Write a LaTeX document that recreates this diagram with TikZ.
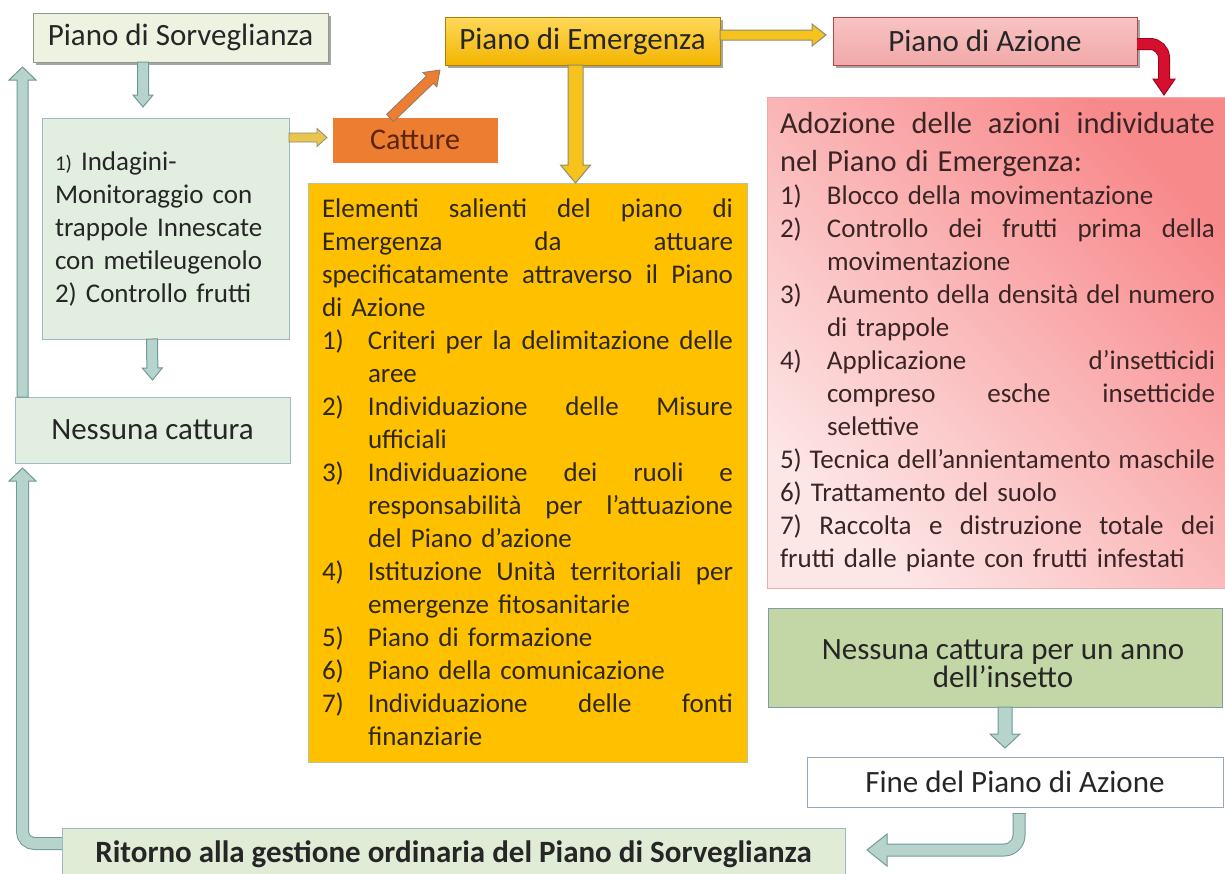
\documentclass[tikz,border=0pt]{standalone}
\usepackage{fontspec}
\setmainfont{Carlito}
\usetikzlibrary{calc,shadows}
\definecolor{txt}{HTML}{262626}
\definecolor{pdsfill}{HTML}{EEF3E1}
\definecolor{pdsdraw}{HTML}{8C9B88}
\definecolor{bfill}{HTML}{E2EEDF}
\definecolor{bdraw}{HTML}{9FBAC4}
\definecolor{ritfill}{HTML}{E1ECD7}
\definecolor{annofill}{HTML}{C3D6A5}
\definecolor{annodraw}{HTML}{7E9DA8}
\definecolor{finedraw}{HTML}{8FA8C8}
\definecolor{tealfill}{HTML}{B6D3CC}
\definecolor{tealdraw}{HTML}{71999A}
\definecolor{goldfill}{HTML}{F5C31C}
\definecolor{golddraw}{HTML}{8E8B74}
\definecolor{lgoldfill}{HTML}{E9C54E}
\definecolor{catfill}{HTML}{ED7D31}
\definecolor{catdraw}{HTML}{8E7A6A}
\definecolor{cattxt}{HTML}{5A2508}
\definecolor{emtop}{HTML}{FFD85A}
\definecolor{embot}{HTML}{F3B500}
\definecolor{emdraw}{HTML}{A88200}
\definecolor{orfill}{HTML}{FFC000}
\definecolor{ordraw}{HTML}{B9C2A3}
\definecolor{ortxt}{HTML}{2E2812}
\definecolor{aztop}{HTML}{F8C3C3}
\definecolor{azmid}{HTML}{FCE2E2}
\definecolor{azbot}{HTML}{F1A9A9}
\definecolor{azdraw}{HTML}{B54646}
\definecolor{redfill}{HTML}{D5102F}
\definecolor{reddraw}{HTML}{A3001C}
\definecolor{redstrong}{HTML}{F8898B}
\definecolor{redpale}{HTML}{FDE6E6}
\definecolor{redboxdraw}{HTML}{E8AEAE}
\definecolor{redtxt}{HTML}{3A2424}

\newlength\hangw
\newlength\restw
% justified line: spaces stretch equally to fill the width
\newcommand\jbox[2]{{\spaceskip=\fontdimen2\font plus 1fil minus \fontdimen4\font\relax\hbox to #1{#2}}}
\newcommand\jline[1]{\noindent\jbox{\hsize}{#1}\par}
\newcommand\lline[1]{\noindent\hbox to \hsize{#1\hss}\par}
\newcommand\jitem[2]{\restw=\hsize\advance\restw by -\hangw\noindent\hbox to \hangw{#1\hss}\jbox{\restw}{#2}\par}
\newcommand\litem[2]{\restw=\hsize\advance\restw by -\hangw\noindent\hbox to \hangw{#1\hss}\hbox to \restw{#2\hss}\par}
\newcommand\jcont[1]{\restw=\hsize\advance\restw by -\hangw\noindent\hbox to \hangw{\hss}\jbox{\restw}{#1}\par}
\newcommand\lcont[1]{\restw=\hsize\advance\restw by -\hangw\noindent\hbox to \hangw{\hss}\hbox to \restw{#1\hss}\par}
% straight block arrow: style, from, to, half shaft, half head, head length
\newcommand\blockarrow[6]{%
  \coordinate (hb) at ($(#3)!#6!(#2)$);
  \draw[#1] ($(#2)!#4!90:(#3)$) -- ($(hb)!#4!-90:(#2)$) -- ($(hb)!#5!-90:(#2)$) -- (#3)
    -- ($(hb)!#5!90:(#2)$) -- ($(hb)!#4!90:(#2)$) -- ($(#2)!#4!-90:(#3)$) -- cycle;
}

\begin{document}
\begin{tikzpicture}[x=1pt,y=-1pt,
  box/.style={line width=1pt, inner sep=0pt, outer sep=0pt, text=txt, anchor=north west},
  shadowed/.style={drop shadow={shadow xshift=2.5pt, shadow yshift=-2.5pt, opacity=0.35, fill=black}},
  teal/.style={fill=tealfill, draw=tealdraw, line width=1pt},
  gold/.style={fill=goldfill, draw=golddraw, line width=1pt},
  lgold/.style={fill=lgoldfill, draw=golddraw, line width=0.8pt},
  orangearrow/.style={fill=catfill, draw=catdraw, line width=0.8pt},
  redarrow/.style={fill=redfill, draw=reddraw, line width=1pt},
  bigfont/.style={font=\fontsize{31}{37}\selectfont},
  midfont/.style={font=\fontsize{27}{33}\selectfont}
]
\useasboundingbox (0,0) rectangle (1225,873);
\fill[white] (0,0) rectangle (1225,873);

% ---------- nodes ----------
\node[box, bigfont, shadowed, fill=pdsfill, draw=pdsdraw, minimum width=295pt, minimum height=49pt]
  (pds) at (33,13) {Piano di Sorveglianza};

\node[box, midfont, fill=bfill, draw=bdraw, minimum width=247pt, minimum height=221pt,
  text width=221pt, align=left]
  (box1) at (42,118) {{\fontsize{21}{33}\selectfont 1)} Indagini-\\Monitoraggio con\\trappole Innescate\\con metileugenolo\\2) Controllo frutti};

\node[box, bigfont, fill=bfill, draw=bdraw, minimum width=275pt, minimum height=66pt]
  (nessuna) at (15,397) {Nessuna cattura};

\node[box, font=\fontsize{30}{36}\selectfont, fill=catfill, draw=catfill, text=cattxt,
  minimum width=164pt, minimum height=44pt]
  (catture) at (333,118) {Catture};

\node[box, bigfont, shadowed, top color=emtop, bottom color=embot, draw=emdraw,
  minimum width=275pt, minimum height=48pt]
  (emer) at (445,17) {Piano di Emergenza};

\node[box, bigfont, shadowed, top color=aztop, middle color=azmid, bottom color=azbot, draw=azdraw,
  minimum width=304pt, minimum height=48pt]
  (azione) at (833,17) {Piano di Azione};

\node[box, midfont, fill=orfill, draw=ordraw, text=ortxt, minimum width=439pt, minimum height=579pt,
  text width=411pt]
  (orange) at (308,183) {\setlength\parindent{0pt}\setlength\parskip{0pt}\setlength\hangw{46pt}%
  \jline{Elementi salienti del piano di}
  \jline{Emergenza da attuare}
  \jline{specificatamente attraverso il Piano}
  \lline{di Azione}
  \jitem{1)}{Criteri per la delimitazione delle}
  \lcont{aree}
  \jitem{2)}{Individuazione delle Misure}
  \lcont{ufficiali}
  \jitem{3)}{Individuazione dei ruoli e}
  \jcont{responsabilità per l’attuazione}
  \lcont{del Piano d’azione}
  \jitem{4)}{Istituzione Unità territoriali per}
  \lcont{emergenze fitosanitarie}
  \litem{5)}{Piano di formazione}
  \litem{6)}{Piano della comunicazione}
  \jitem{7)}{Individuazione delle fonti}
  \lcont{finanziarie}};

\node[box, midfont, top color=redstrong, bottom color=redpale, shading angle=-45, draw=redboxdraw,
  line width=0.8pt, text=redtxt, minimum width=461pt, minimum height=491pt, text width=435pt]
  (red) at (767,97) {\setlength\parindent{0pt}\setlength\parskip{0pt}\setlength\hangw{47pt}%
  {\fontsize{30.5}{38}\selectfont
  \jline{Adozione delle azioni individuate}
  \lline{nel Piano di Emergenza:}}
  \litem{1)}{Blocco della movimentazione}
  \jitem{2)}{Controllo dei frutti prima della}
  \lcont{movimentazione}
  \jitem{3)}{Aumento della densità del numero}
  \lcont{di trappole}
  \jitem{4)}{Applicazione d’insetticidi}
  \jcont{compreso esche insetticide}
  \lcont{selettive}
  \jline{5) Tecnica dell’annientamento maschile}
  \lline{6) Trattamento del suolo}
  \jline{7) Raccolta e distruzione totale dei}
  \lline{frutti dalle piante con frutti infestati}};

\node[box, fill=annofill, draw=annodraw, minimum width=454pt, minimum height=99pt]
  (anno) at (768,608) {};
\node[font=\fontsize{31}{28.5}\selectfont, text=txt, align=center, inner sep=0pt]
  (annotext) at ($(anno.center)+(8,6)$) {Nessuna cattura per un anno\\dell’insetto};

\node[box, bigfont, fill=white, draw=finedraw, minimum width=416pt, minimum height=50pt]
  (fine) at (807,757) {Fine del Piano di Azione};

\node[box, font=\bfseries\fontsize{31}{37}\selectfont, fill=ritfill, draw=bdraw, minimum width=783pt,
  minimum height=52pt]
  (ritorno) at (62,828) {Ritorno alla gestione ordinaria del Piano di Sorveglianza};

% ---------- straight connectors ----------
\coordinate (a1s) at ($(pds.south)+(-37.5,0)$);
\coordinate (a1e) at ($(box1.north)+(-22.5,-11)$);
\blockarrow{teal}{a1s}{a1e}{5.5pt}{10pt}{12pt}

\coordinate (a2s) at ($(box1.south)+(-13.5,0)$);
\coordinate (a2e) at ($(nessuna.north)+(0,-17)$);
\blockarrow{teal}{a2s}{a2e}{5.5pt}{10pt}{12pt}

\coordinate (a3s) at ($(nessuna.north west)+(7.5,0)$);
\coordinate (a3e) at ($(pds.south west)+(-10.5,5)$);
\blockarrow{teal}{a3s}{a3e}{5.5pt}{13.5pt}{13pt}

\coordinate (a4s) at ($(box1.north east)+(0,19.5)$);
\coordinate (a4e) at ($(catture.west)+(-6,-2.5)$);
\blockarrow{lgold}{a4s}{a4e}{4.5pt}{9pt}{10pt}

\coordinate (a5s) at ($(catture.north)+(-25,0)$);
\coordinate (a5e) at ($(emer.south west)+(-5,5)$);
\blockarrow{orangearrow}{a5s}{a5e}{5pt}{10pt}{14pt}

\coordinate (a6s) at ($(emer.east)+(0,-6)$);
\coordinate (a6e) at ($(azione.west)+(-7,-6)$);
\blockarrow{gold}{a6s}{a6e}{5pt}{11pt}{14pt}

\coordinate (a7s) at ($(emer.south)+(-7,0)$);
\coordinate (a7e) at ($(orange.north)+(48,0)$);
\blockarrow{gold}{a7s}{a7e}{7.5pt}{15pt}{18pt}

\coordinate (a8s) at ($(anno.south)+(10,0)$);
\coordinate (a8e) at ($(fine.north)+(-10,-9)$);
\blockarrow{teal}{a8s}{a8e}{7pt}{15pt}{14pt}

% ---------- bent connectors ----------
% Ritorno -> Nessuna cattura
\coordinate (r1s) at ($(ritorno.north west)+(0,15.5)$);
\coordinate (r1t) at ($(nessuna.south west)+(7.5,5)$);
\coordinate (r1b) at ($(r1t)+(0,13)$);
\draw[line width=13pt, draw=tealdraw, rounded corners=12pt] (r1s) -| (r1b);
\filldraw[teal] ($(r1b)+(-13.5,0)$) -- (r1t) -- ($(r1b)+(13.5,0)$) -- cycle;
\draw[line width=11pt, draw=tealfill, rounded corners=12pt] (r1s) -| ($(r1b)+(0,-1.5)$);

% Fine -> Ritorno
\coordinate (hs) at ($(fine.south)+(4,6)$);
\coordinate (ht) at ($(ritorno.east)+(22,-4)$);
\coordinate (hb2) at ($(ht)+(20,0)$);
\draw[line width=13pt, draw=tealdraw, rounded corners=15pt] (hs) |- (hb2);
\filldraw[teal] ($(hb2)+(0,-16)$) -- (ht) -- ($(hb2)+(0,16)$) -- cycle;
\draw[line width=11pt, draw=tealfill, rounded corners=15pt] ($(hs)+(0,1)$) |- ($(hb2)+(-1.5,0)$);

% Azione -> red box
\coordinate (rs) at ($(azione.east)+(0,3)$);
\coordinate (rt) at ($(red.north west)+(397,-2)$);
\coordinate (rb) at ($(rt)+(0,-16)$);
\draw[line width=12pt, draw=reddraw, rounded corners=14pt] (rs) -| (rb);
\filldraw[redarrow] ($(rb)+(-11,0)$) -- (rt) -- ($(rb)+(11,0)$) -- cycle;
\draw[line width=10pt, draw=redfill, rounded corners=14pt] (rs) -| ($(rb)+(0,1.5)$);
\end{tikzpicture}
\end{document}
